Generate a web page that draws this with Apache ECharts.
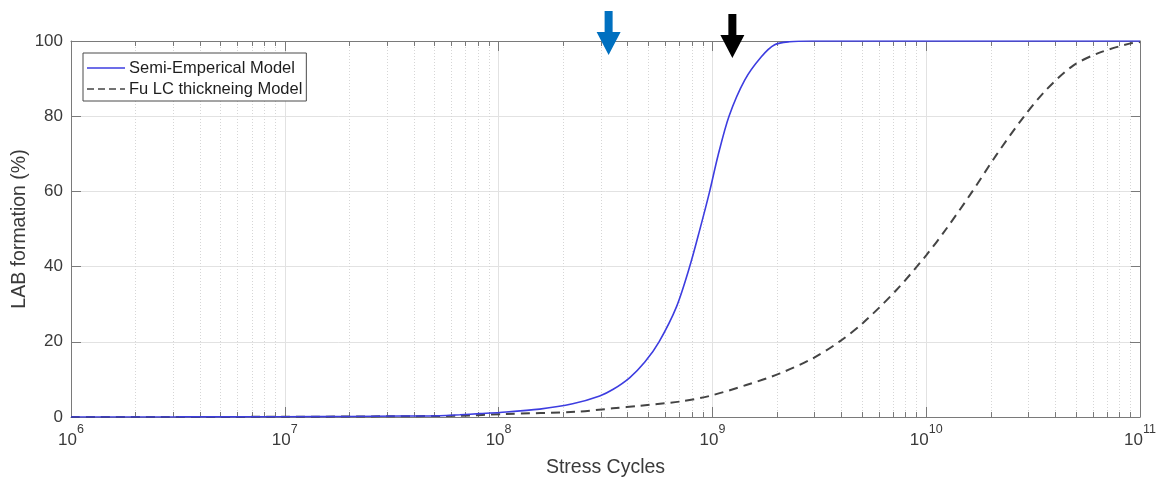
<!DOCTYPE html>
<html>
<head>
<meta charset="utf-8">
<script src="https://cdn.jsdelivr.net/npm/echarts@6/dist/echarts.min.js"></script>
<style>
html,body{margin:0;padding:0;background:#fff;}
#chart{width:1163px;height:479px;}
</style>
</head>
<body>
<div id="chart"></div>
<script>
// ---- data ----
const seriesNames = ['Semi-Emperical Model', 'Fu LC thickneing Model'];

const semiCycles = [1e6, 3.2e6, 1e7, 2e7, 3.5e7, 5.31e7, 6.59e7, 8.17e7, 1.013e8, 1.557e8, 2.22e8, 2.97e8, 3.42e8, 4.11e8, 4.83e8, 5.63e8, 6.79e8, 7.83e8, 8.72e8, 9.71e8, 1.062e9, 1.196e9, 1.416e9, 1.694e9, 1.955e9, 2.29e9, 2.89e9, 1e10, 1e11];
const semiValues = [0, 0.02, 0.07, 0.14, 0.25, 0.35, 0.6, 0.9, 1.2, 2.1, 3.5, 5.6, 7.3, 10.5, 14.6, 20, 29.3, 40, 49.7, 60, 69.5, 80, 89.6, 95.8, 99, 99.8, 100, 100, 100];

const fuCycles = [1e6, 1e7, 3.2e7, 6.6e7, 1.07e8, 2.3e8, 3.42e8, 4.6e8, 7.03e8, 9.7e8, 1.44e9, 2.07e9, 2.95e9, 3.94e9, 5.06e9, 7.24e9, 1e10, 1.24e10, 1.6e10, 2.13e10, 2.83e10, 3.64e10, 4.85e10, 6.47e10, 8.93e10, 1e11];
const fuValues = [0, 0.05, 0.2, 0.35, 0.8, 1.4, 2.3, 3.0, 4.1, 5.6, 8.5, 11.6, 15.6, 20.1, 25.0, 33.7, 43.0, 50.0, 59.0, 69.7, 79.5, 87.0, 93.4, 96.9, 99.3, 99.7];

const xTickExponents = [6, 7, 8, 9, 10, 11];
const yTicks = [0, 20, 40, 60, 80, 100];
const minorMultipliers = [2, 3, 4, 5, 6, 7, 8, 9];

// annotation arrows (cycle position, colour)
const arrowCycles = [3.27e8, 1.24e9];
const arrowColors = ['#0070C0', '#000000'];

// ---- chart ----
const FONT = "'Liberation Sans', Arial, Helvetica, sans-serif";
const AXIS_COLOR = '#7a7a7a';
const LABEL_COLOR = '#3a3a3a';
const BLUE = '#3d3de0';
const DASH = '#444444';

const minorValues = [];
for (let i = 0; i < xTickExponents.length - 1; i++) {
  const base = Math.pow(10, xTickExponents[i]);
  minorMultipliers.forEach(m => minorValues.push([m * base]));
}

const semiData = semiCycles.map((c, i) => [c, semiValues[i]]);
const fuData = fuCycles.map((c, i) => [c, fuValues[i]]);

const chart = echarts.init(document.getElementById('chart'), null, {renderer: 'canvas'});

const xMin = Math.pow(10, xTickExponents[0]);
const xMax = Math.pow(10, xTickExponents[xTickExponents.length - 1]);

const solidIcon = 'path://M0,0H38V1.6H0Z';
const dashIcon = 'path://M0,0H7V1.6H0Z M11,0H18V1.6H11Z M22,0H29V1.6H22Z M33,0H38V1.6H33Z';

const option = {
  animation: false,
  backgroundColor: '#ffffff',
  textStyle: {fontFamily: FONT},
  grid: {left: 71, right: 23, top: 41, bottom: 62, containLabel: false, outerBoundsMode: 'none'},
  legend: {
    data: [{name: seriesNames[0], icon: solidIcon}, {name: seriesNames[1], icon: dashIcon}],
    orient: 'vertical',
    left: 83,
    top: 53,
    itemWidth: 38,
    itemHeight: 1.6,
    itemGap: 3,
    padding: [6, 4, 3, 4],
    borderColor: '#4a4a4a',
    borderWidth: 1,
    backgroundColor: '#ffffff',
    textStyle: {fontFamily: FONT, fontSize: 16.5, color: '#1e1e1e', lineHeight: 18, padding: [0, 0, 0, -1]}
  },
  xAxis: [{
    type: 'log',
    logBase: 10,
    min: xMin,
    max: xMax,
    interval: 1,
    name: 'Stress Cycles',
    nameLocation: 'middle',
    nameGap: 41,
    nameMoveOverlap: false,
    nameTextStyle: {fontFamily: FONT, fontSize: 19.5, color: LABEL_COLOR},
    axisLine: {show: true, onZero: false, lineStyle: {color: AXIS_COLOR, width: 1}},
    axisTick: {show: true, inside: true, length: 10, lineStyle: {color: AXIS_COLOR}},
    axisLabel: {
      margin: 6,
      formatter: function (v) {
        const e = Math.round(Math.log10(v));
        return '{b|10}{s|' + e + '}';
      },
      rich: {
        b: {fontFamily: FONT, fontSize: 17, color: LABEL_COLOR, lineHeight: 26, verticalAlign: 'bottom'},
        s: {fontFamily: FONT, fontSize: 12.5, color: LABEL_COLOR, lineHeight: 12, verticalAlign: 'top'}
      }
    },
    splitLine: {show: true, lineStyle: {color: '#e2e2e2', width: 1}},
    minorTick: {show: false},
    minorSplitLine: {show: false}
  }, {
    type: 'log',
    logBase: 10,
    min: xMin,
    max: xMax,
    interval: 1,
    position: 'top',
    axisLine: {show: true, onZero: false, lineStyle: {color: AXIS_COLOR, width: 1}},
    axisTick: {show: true, inside: true, length: 10, lineStyle: {color: AXIS_COLOR}},
    axisLabel: {show: false},
    splitLine: {show: false}
  }],
  yAxis: [{
    type: 'value',
    min: yTicks[0],
    max: yTicks[yTicks.length - 1],
    interval: yTicks[1] - yTicks[0],
    name: 'LAB formation (%)',
    nameLocation: 'middle',
    nameGap: 41,
    nameMoveOverlap: false,
    nameTextStyle: {fontFamily: FONT, fontSize: 19.5, color: LABEL_COLOR},
    axisLine: {show: true, onZero: false, lineStyle: {color: AXIS_COLOR, width: 1}},
    axisTick: {show: true, inside: true, length: 10, lineStyle: {color: AXIS_COLOR}},
    axisLabel: {margin: 8, fontFamily: FONT, fontSize: 17, color: LABEL_COLOR},
    splitLine: {show: true, lineStyle: {color: '#e2e2e2', width: 1}}
  }, {
    type: 'value',
    min: yTicks[0],
    max: yTicks[yTicks.length - 1],
    interval: yTicks[1] - yTicks[0],
    position: 'right',
    axisLine: {show: true, onZero: false, lineStyle: {color: AXIS_COLOR, width: 1}},
    axisTick: {show: true, inside: true, length: 10, lineStyle: {color: AXIS_COLOR}},
    axisLabel: {show: false},
    splitLine: {show: false}
  }],
  series: [{
    name: 'minor-grid',
    type: 'custom',
    xAxisIndex: 0,
    yAxisIndex: 0,
    silent: true,
    z: 1,
    data: minorValues,
    renderItem: function (params, api) {
      const x = api.value(0);
      const pb = api.coord([x, yTicks[0]]);
      const pt = api.coord([x, yTicks[yTicks.length - 1]]);
      const px = Math.round(pb[0]) + 0.5;
      return {
        type: 'group',
        children: [{
          type: 'line',
          shape: {x1: px, y1: pb[1], x2: px, y2: pt[1]},
          style: {stroke: '#d6d6d6', lineWidth: 1, lineDash: [1, 2]}
        }, {
          type: 'line',
          shape: {x1: px, y1: pb[1], x2: px, y2: pb[1] - 5},
          style: {stroke: AXIS_COLOR, lineWidth: 1}
        }, {
          type: 'line',
          shape: {x1: px, y1: pt[1], x2: px, y2: pt[1] + 5},
          style: {stroke: AXIS_COLOR, lineWidth: 1}
        }]
      };
    }
  }, {
    name: seriesNames[1],
    type: 'line',
    xAxisIndex: 0,
    yAxisIndex: 0,
    data: fuData,
    smooth: 0.3,
    symbol: 'none',
    showSymbol: false,
    z: 3,
    lineStyle: {color: DASH, width: 2, type: [9, 6]},
    itemStyle: {color: DASH}
  }, {
    name: seriesNames[0],
    type: 'line',
    xAxisIndex: 0,
    yAxisIndex: 0,
    data: semiData,
    smooth: 0.3,
    symbol: 'none',
    showSymbol: false,
    z: 4,
    lineStyle: {color: BLUE, width: 1.6},
    itemStyle: {color: BLUE}
  }]
};

chart.setOption(option);

// arrows placed through the chart's own coordinate conversion
const arrowGraphics = arrowCycles.map((c, i) => {
  const p = chart.convertToPixel({xAxisIndex: 0, yAxisIndex: 0}, [c, yTicks[yTicks.length - 1]]);
  const x = p[0], top = p[1];
  const isBlue = i === 0;
  const shaftTop = isBlue ? top - 30 : top - 27;
  const headTop = isBlue ? top - 9 : top - 6;
  const tip = isBlue ? top + 14 : top + 17;
  const sw = 4, hw = 12;
  return {
    type: 'polygon',
    z: 100,
    shape: {points: [[x - sw, shaftTop], [x + sw, shaftTop], [x + sw, headTop], [x + hw, headTop], [x, tip], [x - hw, headTop], [x - sw, headTop]]},
    style: {fill: arrowColors[i]}
  };
});
chart.setOption({graphic: arrowGraphics});
</script>
</body>
</html>
